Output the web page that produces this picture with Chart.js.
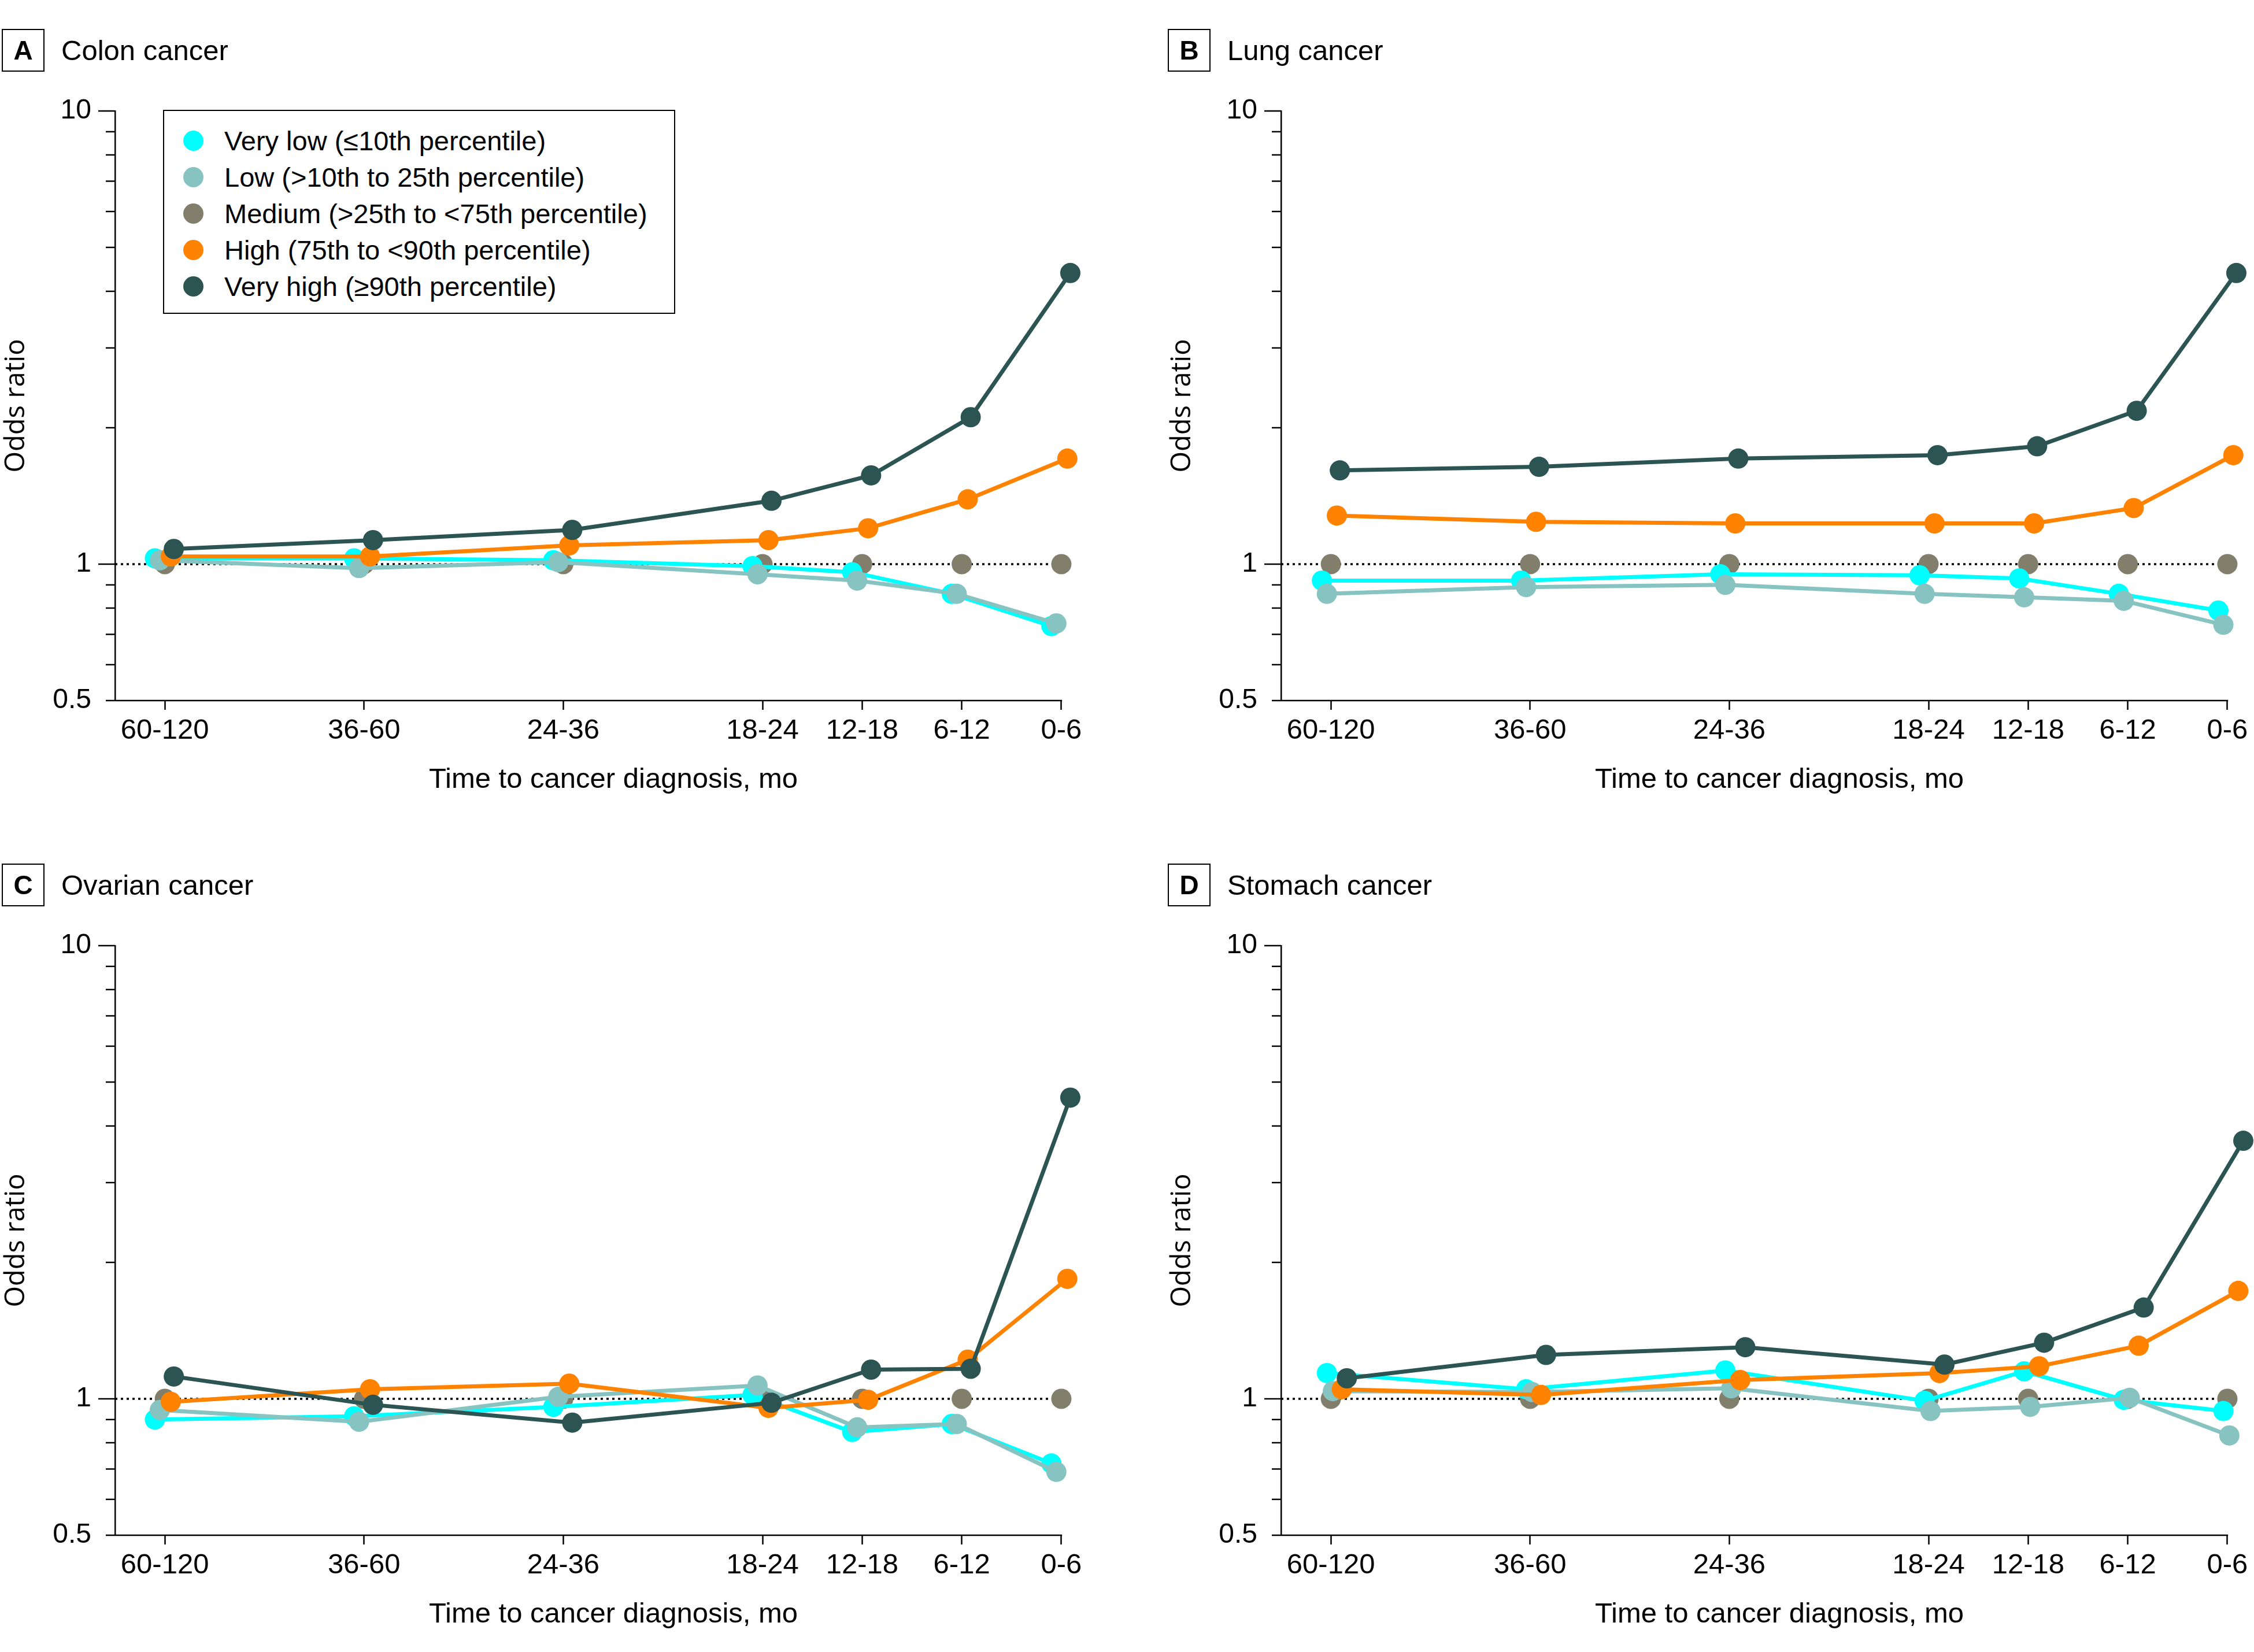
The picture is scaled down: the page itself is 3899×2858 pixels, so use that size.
<!DOCTYPE html>
<html>
<head>
<meta charset="utf-8">
<script src="https://cdn.jsdelivr.net/npm/chart.js@4.4.1/dist/chart.umd.min.js"></script>
<style>
  html, body { margin: 0; padding: 0; background: #fff; }
  body {
    width: 3899px; height: 2858px; position: relative; overflow: hidden;
    font-family: "Liberation Sans", Arial, sans-serif; color: #000;
  }
  .panel { position: absolute; width: 1950px; height: 1444px; }
  .panel canvas { position: absolute; left: 0; top: 0; }
  .tag {
    position: absolute; left: 3px; top: 50px; width: 74px; height: 74px;
    box-sizing: border-box; border: 2px solid #000;
    display: flex; align-items: center; justify-content: center;
    font-weight: bold; font-size: 46px;
  }
  .name { position: absolute; left: 106px; top: 63px; font-size: 49px; line-height: 49px; white-space: nowrap; }
  .xtitle {
    position: absolute; left: 661px; width: 800px; top: 1322px; text-align: center;
    font-size: 49px; line-height: 49px; white-space: nowrap;
  }
  .legend {
    position: absolute; left: 282px; top: 190px; width: 886px; height: 353px;
    box-sizing: border-box; border: 2.5px solid #000; background: #fff;
  }
  .legend .row { position: absolute; left: 0; height: 64px; width: 100%; display: flex; align-items: center; }
  .legend .dot { position: absolute; left: 33px; width: 35px; height: 35px; border-radius: 50%; }
  .legend .txt { position: absolute; left: 104px; font-size: 47px; white-space: nowrap; }
</style>
</head>
<body>
<script>
// time before diagnosis (months), oldest window on the left
const categories = ["60-120", "36-60", "24-36", "18-24", "12-18", "6-12", "0-6"];
// axis position of each window (first three windows are drawn twice as wide)
const timeSlots = [0, 2, 4, 6, 7, 8, 9];

const seriesNames = [
  "Very low (\u226410th percentile)",
  "Low (>10th to 25th percentile)",
  "Medium (>25th to <75th percentile)",
  "High (75th to <90th percentile)",
  "Very high (\u226590th percentile)"
];
const seriesColors = ["#00FFFF", "#86C3C1", "#817F6B", "#FF8200", "#2B5452"];

// odds ratios, one array per group
const colonVeryLow  = [1.03, 1.03, 1.02, 0.99, 0.96, 0.86, 0.73];
const colonLow      = [1.02, 0.98, 1.01, 0.95, 0.92, 0.86, 0.74];
const colonMedium   = [1, 1, 1, 1, 1, 1, 1];
const colonHigh     = [1.04, 1.04, 1.10, 1.13, 1.20, 1.39, 1.71];
const colonVeryHigh = [1.08, 1.13, 1.19, 1.38, 1.57, 2.11, 4.39];

const lungVeryLow  = [0.92, 0.92, 0.95, 0.945, 0.93, 0.86, 0.79];
const lungLow      = [0.86, 0.89, 0.90, 0.86, 0.845, 0.83, 0.735];
const lungMedium   = [1, 1, 1, 1, 1, 1, 1];
const lungHigh     = [1.28, 1.24, 1.23, 1.23, 1.23, 1.33, 1.74];
const lungVeryHigh = [1.61, 1.64, 1.71, 1.74, 1.82, 2.18, 4.39];

const ovarianVeryLow  = [0.90, 0.915, 0.96, 1.02, 0.845, 0.88, 0.72];
const ovarianLow      = [0.945, 0.89, 1.01, 1.07, 0.865, 0.88, 0.69];
const ovarianMedium   = [1, 1, 1, 1, 1, 1, 1];
const ovarianHigh     = [0.985, 1.05, 1.08, 0.955, 0.995, 1.22, 1.84];
const ovarianVeryHigh = [1.12, 0.97, 0.886, 0.98, 1.16, 1.165, 4.62];

const stomachVeryLow  = [1.14, 1.05, 1.155, 0.99, 1.15, 0.995, 0.94];
const stomachLow      = [1.04, 1.035, 1.055, 0.94, 0.96, 1.005, 0.83];
const stomachMedium   = [1, 1, 1, 1, 1, 1, 1];
const stomachHigh     = [1.05, 1.02, 1.10, 1.14, 1.18, 1.31, 1.73];
const stomachVeryHigh = [1.11, 1.25, 1.30, 1.19, 1.33, 1.59, 3.71];

const yTicks = [0.5, 0.6, 0.7, 0.8, 0.9, 1, 2, 3, 4, 5, 6, 7, 8, 9, 10];
const yTickLabels = [0.5, 1, 10];
const yLongTicks = [1, 10];
const referenceOR = 1;

const panels = [
  { tag: "A", name: "Colon cancer", left: 0, top: 0, legend: true,
    values: [colonVeryLow, colonLow, colonMedium, colonHigh, colonVeryHigh],
    dodge: [-0.1, -0.05, 0, 0.06, 0.09] },
  { tag: "B", name: "Lung cancer", left: 2017, top: 0,
    values: [lungVeryLow, lungLow, lungMedium, lungHigh, lungVeryHigh],
    dodge: [-0.09, -0.04, 0, 0.06, 0.09] },
  { tag: "C", name: "Ovarian cancer", left: 0, top: 1444,
    values: [ovarianVeryLow, ovarianLow, ovarianMedium, ovarianHigh, ovarianVeryHigh],
    dodge: [-0.1, -0.05, 0, 0.06, 0.09] },
  { tag: "D", name: "Stomach cancer", left: 2017, top: 1444,
    values: [stomachVeryLow, stomachLow, stomachMedium, stomachHigh, stomachVeryHigh],
    dodge: [-0.04, 0.02, 0, 0.11, 0.16] }
];

// medium group has no connecting line; draw order bottom -> top: medium, very low, low, high, very high
const showLines = [true, true, false, true, true];
const drawOrder = [3, 2, 4, 1, 0];

const xMin = -0.5;
const xMax = 9.25;   // a little room past the last window for dodged points
const xAxisEnd = timeSlots[timeSlots.length - 1];

const tickFont = { family: "'Liberation Sans', Arial, sans-serif", size: 49 };

const refLine = {
  id: "refLine",
  beforeDatasetsDraw(chart) {
    const { ctx, chartArea, scales } = chart;
    const py = scales.y.getPixelForValue(referenceOR);
    ctx.save();
    ctx.strokeStyle = "#000";
    ctx.lineWidth = 3.5;
    ctx.setLineDash([4, 6]);
    ctx.beginPath();
    ctx.moveTo(chartArea.left, py);
    ctx.lineTo(scales.x.getPixelForValue(xAxisEnd), py);
    ctx.stroke();
    ctx.restore();
  }
};

// x axis line stops at the last window; y tick marks long at 1 and 10
const axisMarks = {
  id: "axisMarks",
  afterDraw(chart) {
    const { ctx, chartArea, scales } = chart;
    ctx.save();
    ctx.strokeStyle = "#000";
    ctx.lineWidth = 2.5;
    ctx.beginPath();
    ctx.moveTo(chartArea.left, chartArea.bottom);
    ctx.lineTo(scales.x.getPixelForValue(xAxisEnd) + 1.25, chartArea.bottom);
    ctx.stroke();
    yTicks.forEach((v) => {
      const py = scales.y.getPixelForValue(v);
      const len = yLongTicks.includes(v) ? 29 : 16;
      ctx.beginPath();
      ctx.moveTo(chartArea.left - len, py);
      ctx.lineTo(chartArea.left, py);
      ctx.stroke();
    });
    ctx.restore();
  }
};

panels.forEach((p) => {
  const box = document.createElement("div");
  box.className = "panel";
  box.style.left = p.left + "px";
  box.style.top = p.top + "px";
  document.body.appendChild(box);

  const canvas = document.createElement("canvas");
  canvas.width = 1950;
  canvas.height = 1444;
  canvas.style.width = "1950px";
  canvas.style.height = "1444px";
  box.appendChild(canvas);

  const tag = document.createElement("div");
  tag.className = "tag";
  tag.textContent = p.tag;
  box.appendChild(tag);

  const name = document.createElement("div");
  name.className = "name";
  name.textContent = p.name;
  box.appendChild(name);

  const xt = document.createElement("div");
  xt.className = "xtitle";
  xt.textContent = "Time to cancer diagnosis, mo";
  box.appendChild(xt);

  if (p.legend) {
    const lg = document.createElement("div");
    lg.className = "legend";
    seriesNames.forEach((s, i) => {
      const row = document.createElement("div");
      row.className = "row";
      row.style.top = (19 + i * 63.2) + "px";
      const dot = document.createElement("span");
      dot.className = "dot";
      dot.style.background = seriesColors[i];
      const txt = document.createElement("span");
      txt.className = "txt";
      txt.textContent = s;
      row.appendChild(dot);
      row.appendChild(txt);
      lg.appendChild(row);
    });
    box.appendChild(lg);
  }

  const datasets = seriesNames.map((s, i) => ({
    label: s,
    data: p.values[i].map((v, j) => ({ x: timeSlots[j] + p.dodge[i], y: v })),
    showLine: showLines[i],
    borderColor: seriesColors[i],
    backgroundColor: seriesColors[i],
    borderWidth: 7,
    pointRadius: 17.5,
    pointHoverRadius: 17.5,
    pointBorderWidth: 0,
    pointBackgroundColor: seriesColors[i],
    tension: 0,
    order: drawOrder[i],
    clip: false
  }));

  new Chart(canvas, {
    type: "line",
    data: { datasets: datasets },
    options: {
      responsive: false,
      animation: false,
      events: [],
      layout: { autoPadding: false, padding: { left: 0, top: 192, right: 71, bottom: 132 } },
      plugins: { legend: { display: false }, tooltip: { enabled: false } },
      scales: {
        x: {
          type: "linear",
          min: xMin,
          max: xMax,
          afterBuildTicks: (s) => { s.ticks = timeSlots.map((v) => ({ value: v })); },
          afterFit: (s) => { s.height = 100; },
          ticks: {
            autoSkip: false,
            maxRotation: 0,
            padding: 7,
            color: "#000",
            font: tickFont,
            callback: (v) => categories[timeSlots.indexOf(v)]
          },
          grid: { drawOnChartArea: false, drawTicks: true, tickLength: 16, tickWidth: 2.5, tickColor: "#000" },
          border: { display: false }
        },
        y: {
          type: "logarithmic",
          min: 0.5,
          max: 10,
          afterBuildTicks: (s) => { s.ticks = yTicks.map((v) => ({ value: v })); },
          afterFit: (s) => { s.width = 199; },
          ticks: {
            autoSkip: false,
            padding: 41,
            color: "#000",
            font: { family: "'Liberation Sans', Arial, sans-serif", size: 48 },
            callback: (v) => (yTickLabels.includes(v) ? String(v) : "")
          },
          grid: { drawOnChartArea: false, drawTicks: false },
          border: { color: "#000", width: 2.5 },
          title: {
            display: true,
            text: "Odds ratio",
            color: "#000",
            padding: 0,
            font: { family: "'Open Sans', sans-serif", size: 47 }
          }
        }
      }
    },
    plugins: [refLine, axisMarks]
  });
});
</script>
</body>
</html>
